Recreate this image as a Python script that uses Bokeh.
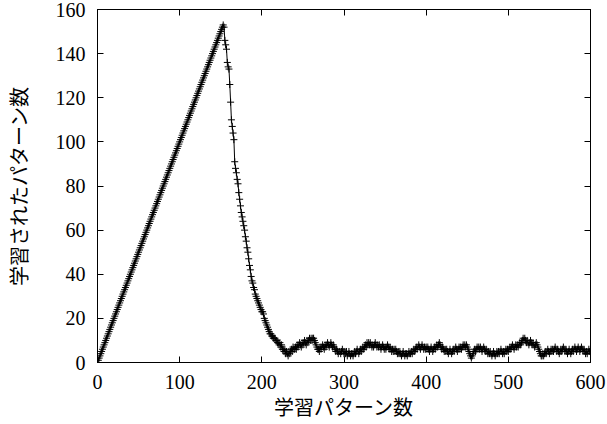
from bokeh.plotting import figure
from bokeh.models import Range1d, LinearAxis, FixedTicker
from bokeh.embed import file_html
from bokeh.resources import INLINE

# x: number of training patterns presented (0..600, step 1)
ramp_values = [
    0, 1, 2, 3, 4, 5, 6, 7, 8, 9, 10, 11, 12, 13, 14, 15, 16, 17, 18, 19,
    20, 21, 22, 23, 24, 25, 26, 27, 28, 29, 30, 31, 32, 33, 34, 35, 36, 37, 38, 39,
    40, 41, 42, 43, 44, 45, 46, 47, 48, 49, 50, 51, 52, 53, 54, 55, 56, 57, 58, 59,
    60, 61, 62, 63, 64, 65, 66, 67, 68, 69, 70, 71, 72, 73, 74, 75, 76, 77, 78, 79,
    80, 81, 82, 83, 84, 85, 86, 87, 88, 89, 90, 91, 92, 93, 94, 95, 96, 97, 98, 99,
    100, 101, 102, 103, 104, 105, 106, 107, 108, 109, 110, 111, 112, 113, 114, 115, 116, 117, 118, 119,
    120, 121, 122, 123, 124, 125, 126, 127, 128, 129, 130, 131, 132, 133, 134, 135, 136, 137, 138, 139,
    140, 141, 142, 143, 144, 145, 146, 147, 148, 149, 150, 151, 152,
]
# x = 153 .. 220
decline_values = [
    153, 152, 146, 144, 142, 136, 134, 133, 126, 118, 110, 107, 104, 101, 91, 88, 86, 83, 81, 77,
    74, 71, 68, 66, 64, 62, 60, 57, 55, 52, 50, 47, 44, 42, 39, 37, 36, 34, 33, 31,
    30, 29, 28, 27, 26, 25, 24, 23, 23, 22, 20, 19, 18, 17, 16, 15, 14, 13, 13, 12,
    12, 11, 11, 11, 10, 10, 9, 9,
]
# x = 221 .. 600
plateau_values = [
    8, 9, 7, 8, 6, 6, 5, 6, 4, 5, 4, 3, 5, 4, 5, 6, 5, 7, 6, 6,
    7, 6, 8, 7, 8, 9, 8, 7, 9, 8, 9, 10, 9, 8, 10, 9, 10, 11, 10, 11,
    10, 11, 11, 10, 9, 8, 7, 6, 6, 5, 7, 6, 7, 8, 7, 6, 8, 7, 8, 9,
    8, 7, 8, 9, 8, 7, 8, 7, 6, 5, 6, 5, 4, 5, 5, 4, 5, 6, 5, 4,
    5, 4, 5, 3, 4, 5, 4, 3, 4, 4, 3, 4, 5, 4, 5, 6, 5, 4, 5, 6,
    5, 6, 7, 6, 7, 8, 7, 9, 8, 9, 8, 9, 8, 7, 8, 7, 8, 9, 8, 7,
    8, 7, 8, 7, 6, 7, 8, 7, 6, 7, 6, 7, 8, 7, 6, 7, 6, 5, 6, 5,
    6, 5, 6, 5, 4, 5, 4, 5, 4, 3, 4, 5, 4, 3, 4, 4, 3, 4, 5, 4,
    4, 5, 4, 5, 6, 5, 6, 7, 6, 7, 8, 7, 6, 7, 8, 7, 6, 7, 6, 7,
    6, 7, 6, 5, 6, 7, 6, 5, 6, 7, 6, 7, 8, 7, 8, 9, 8, 7, 6, 7,
    6, 5, 6, 5, 6, 5, 4, 5, 6, 5, 4, 5, 6, 5, 6, 7, 6, 5, 6, 7,
    6, 7, 6, 7, 8, 7, 8, 7, 8, 7, 6, 5, 4, 3, 2, 3, 4, 5, 6, 5,
    6, 7, 6, 7, 6, 7, 6, 5, 6, 7, 6, 5, 6, 5, 4, 5, 4, 5, 4, 3,
    4, 5, 4, 3, 4, 5, 4, 5, 4, 5, 6, 5, 4, 5, 4, 5, 6, 5, 6, 5,
    6, 7, 6, 7, 8, 7, 6, 7, 8, 7, 8, 7, 8, 9, 8, 9, 10, 11, 10, 11,
    10, 9, 10, 9, 8, 9, 10, 9, 8, 9, 8, 7, 8, 9, 8, 7, 6, 5, 4, 3,
    3, 4, 3, 4, 5, 4, 5, 6, 5, 4, 5, 6, 5, 6, 5, 6, 7, 6, 5, 6,
    5, 4, 5, 6, 5, 6, 7, 6, 5, 6, 5, 4, 5, 6, 5, 4, 5, 6, 5, 6,
    7, 6, 5, 6, 7, 6, 5, 6, 7, 6, 5, 6, 5, 4, 5, 4, 5, 6, 5, 4,
]
y_values = ramp_values + decline_values + plateau_values
x_values = list(range(len(y_values)))

x_ticks = [0, 100, 200, 300, 400, 500, 600]
y_ticks = [0, 20, 40, 60, 80, 100, 120, 140, 160]

x_label = "学習パターン数"
y_label = "学習されたパターン数"

serif = "Liberation Serif"
cjk = "Noto Sans CJK JP"

p = figure(width=607, height=424, x_range=Range1d(0, 600), y_range=Range1d(0, 160),
           output_backend="svg", toolbar_location=None,
           x_axis_location=None, y_axis_location=None,
           min_border_left=97, min_border_right=17, min_border_top=9, min_border_bottom=62)
p.background_fill_color = "white"
p.border_fill_color = "white"
p.outline_line_color = "black"
p.outline_line_width = 1
p.xgrid.visible = False
p.ygrid.visible = False


def style_axis(ax, ticks, show_labels):
    ax.ticker = FixedTicker(ticks=ticks)
    ax.major_tick_in = 6
    ax.major_tick_out = 0
    ax.minor_tick_line_color = None
    ax.axis_line_color = "black"
    ax.major_tick_line_color = "black"
    ax.major_label_text_font = serif
    ax.axis_label_text_color = "black"
    if show_labels:
        ax.major_label_text_color = "black"
        ax.major_label_text_font_size = "20px"
    else:
        ax.major_label_text_color = None
        ax.major_label_text_font_size = "0px"
        ax.major_label_standoff = 0


xb = LinearAxis()
style_axis(xb, x_ticks, True)
xb.major_label_standoff = 12
xb.axis_label = x_label
xb.axis_label_text_font = cjk
xb.axis_label_text_font_style = "normal"
xb.axis_label_text_font_size = "20px"
xb.axis_label_standoff = 0
p.add_layout(xb, "below")

yl = LinearAxis()
style_axis(yl, y_ticks, True)
yl.major_label_standoff = 12
yl.axis_label = y_label
yl.axis_label_text_font = cjk
yl.axis_label_text_font_style = "normal"
yl.axis_label_text_font_size = "20px"
yl.axis_label_standoff = 20
p.add_layout(yl, "left")

xt = LinearAxis()
style_axis(xt, x_ticks, False)
p.add_layout(xt, "above")

yr = LinearAxis()
style_axis(yr, y_ticks, False)
p.add_layout(yr, "right")

p.line(x_values, y_values, line_color="black", line_width=1)
p.scatter(x_values, y_values, marker="cross", size=7, line_color="black", line_width=1)

open("out.html", "w").write(file_html(p, INLINE))
